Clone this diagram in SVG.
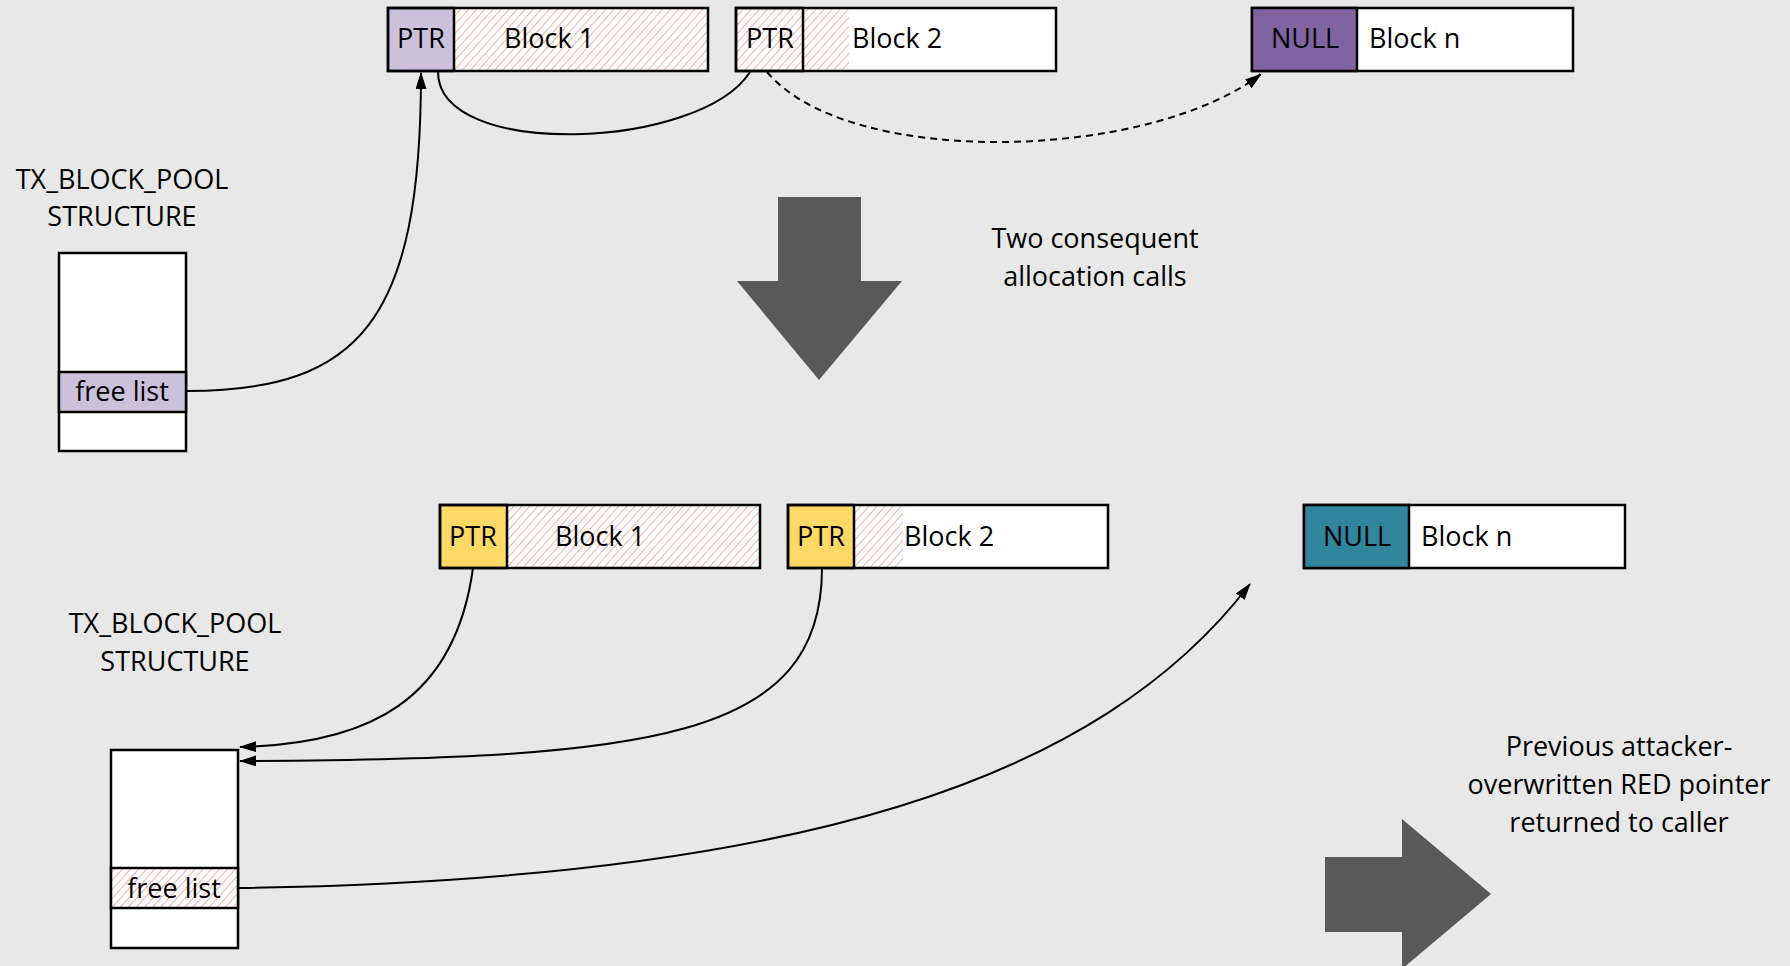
<svg xmlns="http://www.w3.org/2000/svg" width="1790" height="966" viewBox="0 0 1790 966">
<style>
text{font-family:"Open Sans","Liberation Sans",sans-serif;font-size:27px;fill:#000}
.c{text-anchor:middle}
.box{stroke:#000;stroke-width:2.5}
.con{fill:none;stroke:#000;stroke-width:2}
.big{fill:#595959}
</style>
<defs>
<pattern id="hatch" patternUnits="userSpaceOnUse" width="6" height="6" patternTransform="rotate(42)">
<rect width="6" height="6" fill="#fff"/>
<line x1="0" y1="0" x2="0" y2="6" stroke="#E07C76" stroke-width="1.2"/>
</pattern>
<marker id="ah" markerUnits="userSpaceOnUse" markerWidth="17" markerHeight="11" refX="16" refY="5.5" orient="auto">
<path d="M0,0 L17,5.5 L0,11 z" fill="#000"/>
</marker>
</defs>
<rect width="1790" height="966" fill="#E9E8E8"/>

<g id="top-struct">
<text class="c" x="122" y="189">TX_BLOCK_POOL</text>
<text class="c" x="122" y="226">STRUCTURE</text>
<rect class="box" x="59" y="253" width="127" height="198" fill="#fff"/>
<rect class="box" x="59" y="372" width="127" height="40" fill="#CCC0DA"/>
<text class="c" x="122" y="401">free list</text>
</g>

<g id="top-block1">
<rect x="388" y="8" width="320" height="63" fill="url(#hatch)"/>
<rect class="box" x="388" y="8" width="66" height="63" fill="#CCC0DA"/>
<rect class="box" x="388" y="8" width="320" height="63" fill="none"/>
<text class="c" x="421" y="48">PTR</text>
<text x="504" y="48">Block 1</text>
</g>

<g id="top-block2">
<rect x="736" y="8" width="320" height="63" fill="#fff"/>
<rect x="736" y="8" width="113" height="63" fill="url(#hatch)"/>
<rect class="box" x="736" y="8" width="67" height="63" fill="none" stroke-width="3"/>
<rect class="box" x="736" y="8" width="320" height="63" fill="none"/>
<text class="c" x="770" y="48">PTR</text>
<text x="852" y="48">Block 2</text>
</g>

<g id="top-blockn">
<rect class="box" x="1252" y="8" width="321" height="63" fill="#fff"/>
<rect class="box" x="1252" y="8" width="105" height="63" fill="#8064A2"/>
<text class="c" x="1305" y="48">NULL</text>
<text x="1369" y="48">Block n</text>
</g>

<g id="down-arrow">
<polygon class="big" points="778,197 861,197 861,281 902,281 819,380 737,281 778,281"/>
<text class="c" x="1095" y="248">Two consequent</text>
<text class="c" x="1095" y="286">allocation calls</text>
</g>

<g id="bottom-struct">
<text class="c" x="175" y="633">TX_BLOCK_POOL</text>
<text class="c" x="175" y="671">STRUCTURE</text>
<rect class="box" x="111" y="750" width="127" height="198" fill="#fff"/>
<rect class="box" x="111" y="868" width="127" height="40" fill="url(#hatch)"/>
<text class="c" x="174" y="898">free list</text>
</g>

<g id="bottom-block1">
<rect x="440" y="505" width="320" height="63" fill="url(#hatch)"/>
<rect class="box" x="440" y="505" width="67" height="63" fill="#FFD966"/>
<rect class="box" x="440" y="505" width="320" height="63" fill="none"/>
<text class="c" x="473" y="546">PTR</text>
<text x="555" y="546">Block 1</text>
</g>

<g id="bottom-block2">
<rect x="788" y="505" width="320" height="63" fill="#fff"/>
<rect x="854" y="505" width="49" height="63" fill="url(#hatch)"/>
<rect class="box" x="788" y="505" width="66" height="63" fill="#FFD966"/>
<rect class="box" x="788" y="505" width="320" height="63" fill="none"/>
<text class="c" x="821" y="546">PTR</text>
<text x="904" y="546">Block 2</text>
</g>

<g id="bottom-blockn">
<rect class="box" x="1304" y="505" width="321" height="63" fill="#fff"/>
<rect class="box" x="1304" y="505" width="105" height="63" fill="#31859C"/>
<text class="c" x="1357" y="546">NULL</text>
<text x="1421" y="546">Block n</text>
</g>

<g id="right-arrow">
<polygon class="big" points="1325,857 1402,857 1402,819 1491,894 1402,969 1402,932 1325,932"/>
<text class="c" x="1619" y="756">Previous attacker-</text>
<text class="c" x="1619" y="794">overwritten RED pointer</text>
<text class="c" x="1619" y="832">returned to caller</text>
</g>

<g id="connectors">
<path class="con" d="M187,391 C360,391 421,320 421,73" marker-end="url(#ah)"/>
<path class="con" d="M438,72 C438,160 700,150 750,72"/>
<path class="con" d="M767,72 C850,170 1150,160 1261,74" stroke-dasharray="7,5" marker-end="url(#ah)"/>
<path class="con" d="M473,568 C455,700 370,744 240,747" marker-end="url(#ah)"/>
<path class="con" d="M822,568 C822,740 650,759 240,761" marker-end="url(#ah)"/>
<path class="con" d="M239,888 C800,880 1100,780 1250,584" marker-end="url(#ah)"/>
</g>
</svg>
